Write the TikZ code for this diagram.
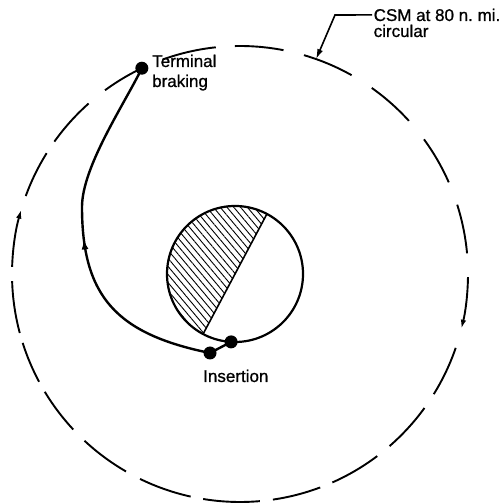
\documentclass[tikz,border=0pt]{standalone}
\usepackage{fontspec}
\setmainfont{Liberation Sans}
\newfontfamily\lblfont{Liberation Sans}[FakeBold=0.9]
\usetikzlibrary{arrows.meta,patterns.meta,decorations.markings}
\begin{document}
\begin{tikzpicture}[x=1pt,y=1pt,draw=black,
  dot/.style={circle,fill=black,inner sep=0pt,minimum size=13pt},
  lbl/.style={anchor=base west,inner sep=0pt,align=left,font=\lblfont\fontsize{17}{20}\selectfont},
  csmorbit/.style={line width=1.9pt},
  traj/.style={line width=2.4pt},
  tip/.style={-{Latex[length=9pt,width=5.5pt]}}]
\useasboundingbox (0,0) rectangle (502,503);
\coordinate (O) at (240,229);
\coordinate (M) at (235,229);
\foreach \a/\b in {73.7/60.7,91.3/79,109.8/96.1,126.3/114,144.5/131.6,160/148,195/181.8,208.2/197.6,223/211.1,240/227,257.5/244,275/260.7,290.6/278.3,307/293.9,324/311,341.1/328.2,17.7/5.2,36.2/23.7,54.7/42.2}
  \draw[csmorbit] ([shift={(O)}]\a:228) arc[start angle=\a, end angle=\b, radius=228];
\draw[csmorbit,tip] ([shift={(O)}]178.2:228) arc[start angle=178.2, end angle=163.6, radius=228];
\draw[csmorbit,tip] ([shift={(O)}]359.2:228) arc[start angle=359.2, end angle=346.1, radius=228];
\fill[pattern={Lines[angle=-50,distance=5.2pt,line width=0.9pt]}] ([shift={(M)}]62:68) arc[start angle=62, end angle=242, radius=68] -- cycle;
\draw[line width=1.6pt] ([shift={(M)}]62:68) -- ([shift={(M)}]242:68);
\draw[line width=2.2pt] (M) circle (68);
\node[dot] (tb) at ([shift={(O)}]115.5:228) {};
\node[dot] (ins1) at (210,150) {};
\node[dot] (ins2) at ([shift={(M)}]266.7:68) {};
\coordinate (lft) at (82,296);
\coordinate (csm) at ([shift={(O)}]70.5:228);
\draw[traj] (ins2.center) -- (ins1.center);
\draw[traj,postaction={decorate},decoration={markings,mark=at position 0.5 with {\arrow{Latex[length=10pt,width=7pt]}}}] (ins1.center) .. controls (117,169) and (82,206) .. (lft) .. controls (82,336) and (124.4,399) .. (tb.center);
\node[lbl] (tblbl) at (152,416) {Terminal\\braking};
\node[lbl] (inslbl) at (203,121) {Insertion};
\node[lbl,inner sep=1.5pt] (csm1) at (372,482) {CSM at 80 n.\ mi.};
\node[lbl] (csm2) at (373.5,466) {circular};
\draw[line width=1.6pt,-{Latex[length=10pt,width=6pt]}] (csm1.west) -- (335,488) -- (csm);
\end{tikzpicture}
\end{document}
